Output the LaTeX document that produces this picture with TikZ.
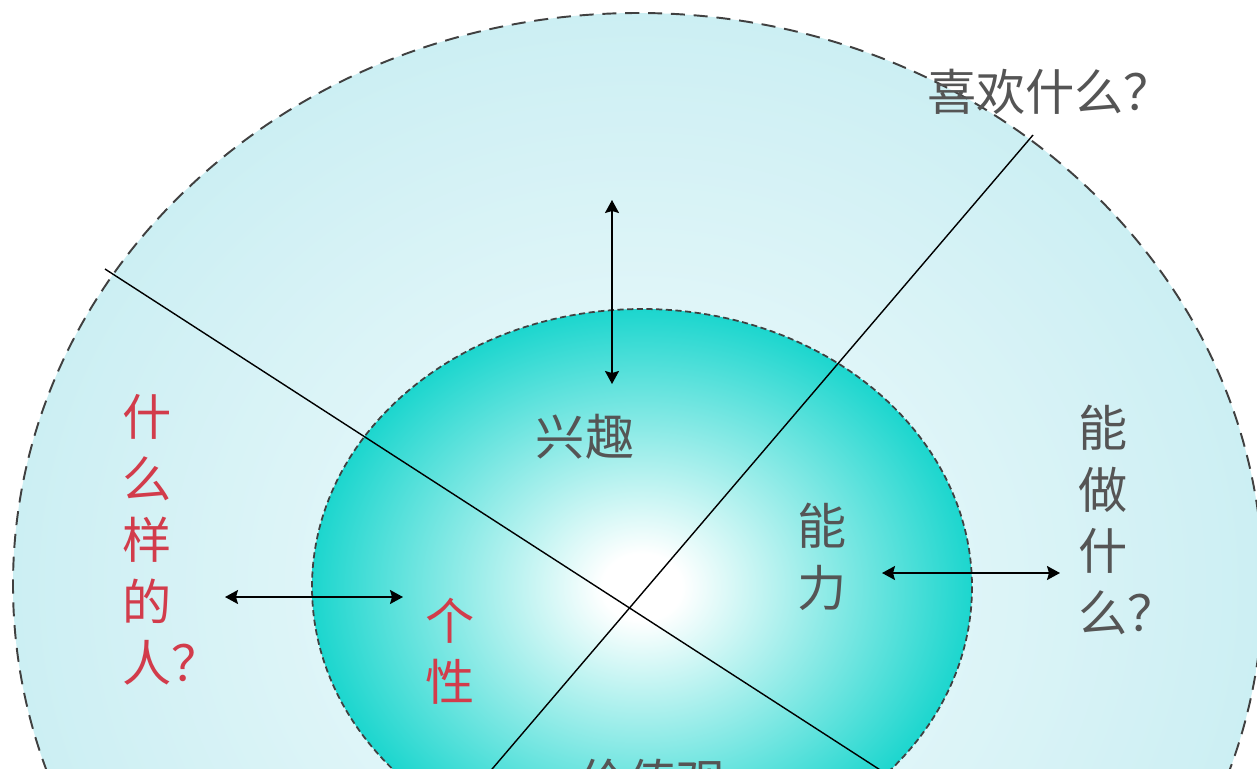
\documentclass[tikz,border=0pt]{standalone}
\usepackage{fontspec}
\usetikzlibrary{arrows.meta}
\newfontfamily\cjk{Noto Sans CJK SC}
\definecolor{skyin}{RGB}{242,251,253}
\definecolor{skyout}{RGB}{204,239,243}
\definecolor{coreout}{RGB}{28,214,206}
\definecolor{txtgray}{RGB}{85,85,85}
\definecolor{txtred}{RGB}{210,60,75}
\pgfdeclareradialshading{skyglow}{\pgfpoint{0bp}{0bp}}{color(0bp)=(skyin); color(25bp)=(skyout); color(50bp)=(skyout)}
\pgfdeclareradialshading{coreglow}{\pgfpoint{0bp}{0bp}}{color(0bp)=(white); color(3bp)=(white); color(25bp)=(coreout); color(50bp)=(coreout)}

\begin{document}
\begin{tikzpicture}[x=0.02cm, y=-0.02cm,
    lbl/.style = {font=\cjk\fontsize{28}{35}\selectfont, text=txtgray, inner sep=0pt, align=left},
    redlbl/.style = {lbl, text=txtred},
    cut/.style = {line width=0.8pt},
    dbl/.style = {line width=0.9pt, {Stealth[length=2.6mm,width=2.8mm,inset=0.4mm]}-{Stealth[length=2.6mm,width=2.8mm,inset=0.4mm]}}]
    \fill[white] (0,0) rectangle (1257,768);
    \useasboundingbox (0,0) rectangle (1257,768);
    \clip (0,0) rectangle (1257,768);
    \shadedraw[shading=skyglow, draw=black!75, line width=1.1pt, dash pattern=on 8pt off 5pt]
        (638,585) ellipse [x radius=625, y radius=572];
    \shadedraw[shading=coreglow, draw=black!75, line width=1pt, dash pattern=on 3.5pt off 2pt]
        (642,587) ellipse [x radius=330, y radius=278];

    \coordinate (cutAa) at (105,269);
    \coordinate (cutAb) at (888,775);
    \coordinate (cutBa) at (1033,135);
    \coordinate (cutBb) at (487,775);
    \draw[cut] (cutAa) -- (cutAb);
    \draw[cut] (cutBa) -- (cutBb);

    \node[lbl] (like) at (1050,92) {喜欢什么？};
    \node[lbl] (interest) at (585,437) {兴趣};
    \node[lbl] (ability) at (822,557) {能\\力};
    \node[lbl, anchor=west] (cando) at (1078,520) {能\\做\\什\\么？};
    \node[redlbl, anchor=west] (who) at (122,540) {什\\么\\样\\的\\人？};
    \node[redlbl] (trait) at (450,651) {个\\性};
    \node[lbl] (value) at (652,782) {价值观};

    \coordinate (likeUp) at (612,200);
    \coordinate (likeDown) at (612,384);
    \coordinate (whoEnd) at (225,597);
    \coordinate (traitEnd) at (403,597);
    \coordinate (abilityEnd) at (882,573);
    \coordinate (candoEnd) at (1060,573);
    \draw[dbl] (likeUp) -- (likeDown);
    \draw[dbl] (whoEnd) -- (traitEnd);
    \draw[dbl] (abilityEnd) -- (candoEnd);
\end{tikzpicture}
\end{document}
